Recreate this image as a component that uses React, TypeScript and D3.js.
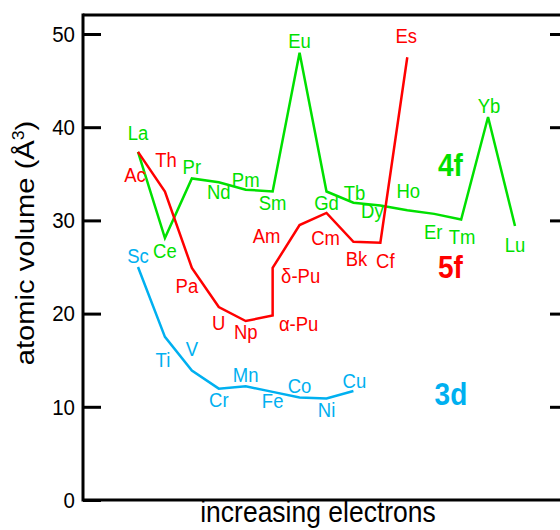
import React, { useEffect, useRef } from 'react';
import * as d3 from 'd3';

// atomic volumes (A^3), one entry per element
const elements4f = ['La', 'Ce', 'Pr', 'Nd', 'Pm', 'Sm', 'Eu', 'Gd', 'Tb', 'Dy', 'Ho', 'Er', 'Tm', 'Yb', 'Lu'];
const volumes4f = [37.35, 28.1, 34.5, 34.1, 33.3, 33.1, 48.0, 33.1, 31.9, 31.6, 31.1, 30.7, 30.1, 41.1, 29.4];

const elements5f = ['Ac', 'Th', 'Pa', 'U', 'Np', 'α-Pu', 'δ-Pu', 'Am', 'Cm', 'Bk', 'Cf', 'Es'];
const steps5f = [0, 1, 2, 3, 4, 5, 5, 6, 7, 8, 9, 10];
const volumes5f = [37.35, 33.1, 24.9, 20.7, 19.2, 19.8, 24.9, 29.5, 30.8, 27.7, 27.6, 47.5];

const elements3d = ['Sc', 'Ti', 'V', 'Cr', 'Mn', 'Fe', 'Co', 'Ni', 'Cu'];
const volumes3d = [25.0, 17.5, 13.9, 11.95, 12.2, 11.6, 11.0, 10.9, 11.7];

const yTicks = [0, 10, 20, 30, 40, 50];

// label nudges in px (dx, dy from the point to the text baseline)
const offsets4f = [[0, -12], [0, 20], [0, -4], [0, 17], [0, -3], [0, 18], [0, -5], [0, 18], [1, -3], [-8, 13], [1, -12], [-1, 25], [1, 25], [1, -4], [0, 26]];
const offsets5f = [[-3, 30], [1, -25], [-5, 25], [0, 23], [0, 18], [26, 16], [28, 15], [-33, 18], [-1, 32], [3, 24], [5, 25], [-1, -14]];
const offsets3d = [[0, -4], [-2, 30], [0, -14], [0, 18], [0, -4], [0, 16], [0, -4], [0, 19], [1, -3]];

const GREEN = '#00e000';
const RED = '#ff0000';
const BLUE = '#00b0f0';
const FONT = "Arial, 'Liberation Sans', sans-serif";
const STRETCH = 1.1; // the source figure is a little taller than wide

const App = () => {
  const svgRef = useRef<SVGSVGElement>(null);
  const width = 560;
  const height = 530;
  const left = 83, top = 15, bottom = 500, right = 568;

  useEffect(() => {
    const svg = d3.select(svgRef.current);
    svg.selectAll('*').remove();

    const x = d3.scaleLinear().domain([0, 14]).range([138, 515]);
    const y = d3.scaleLinear().domain([0, 50]).range([500, 34]);

    // frame
    svg.append('line').attr('x1', left).attr('x2', right).attr('y1', top).attr('y2', top)
      .attr('stroke', '#000').attr('stroke-width', 3);
    svg.append('line').attr('x1', left).attr('x2', right).attr('y1', bottom).attr('y2', bottom)
      .attr('stroke', '#000').attr('stroke-width', 3);

    const yAxis = d3.axisLeft(y).tickValues(yTicks).tickSize(-18).tickSizeOuter(0).tickPadding(8);
    const gy = svg.append('g').attr('transform', `translate(${left},0)`).call(yAxis);
    gy.select('.domain').remove();
    gy.selectAll('.tick line').attr('stroke', '#000').attr('stroke-width', 3);
    gy.selectAll('.tick text').attr('font-size', 20.5).attr('font-family', FONT).attr('fill', '#000')
      .attr('transform', `scale(1,${STRETCH})`).attr('dy', null).attr('y', 0)
      .attr('dominant-baseline', 'central');
    svg.append('line').attr('x1', left).attr('x2', left).attr('y1', top - 1.5).attr('y2', bottom + 1.5)
      .attr('stroke', '#000').attr('stroke-width', 3);

    const yRight = d3.axisRight(y).tickValues(yTicks.filter(d => d > 0)).tickSize(-18).tickSizeOuter(0).tickFormat(() => '');
    const gr = svg.append('g').attr('transform', `translate(${right},0)`).call(yRight);
    gr.select('.domain').attr('stroke', '#000').attr('stroke-width', 3);
    gr.selectAll('.tick line').attr('stroke', '#000').attr('stroke-width', 3);

    // axis titles
    svg.append('text').attr('transform', `translate(318,522) scale(1,${STRETCH})`).attr('text-anchor', 'middle')
      .attr('font-family', FONT).attr('font-size', 26.5).attr('fill', '#000').text('increasing electrons');
    const yt = svg.append('text').attr('transform', `translate(34,243) scale(1,${STRETCH}) rotate(-90)`)
      .attr('text-anchor', 'middle').attr('font-family', FONT).attr('font-size', 26.5).attr('fill', '#000');
    yt.append('tspan').text('atomic volume (Å');
    yt.append('tspan').attr('font-size', 16).attr('dy', -10).text('3');
    yt.append('tspan').attr('dy', 10).text(')');

    const series = [
      { names: elements4f, steps: elements4f.map((_, i) => i), vals: volumes4f, offs: offsets4f, color: GREEN, tag: '4f', tagAt: [11.6, 34.8] },
      { names: elements5f, steps: steps5f, vals: volumes5f, offs: offsets5f, color: RED, tag: '5f', tagAt: [11.6, 23.8] },
      { names: elements3d, steps: elements3d.map((_, i) => i), vals: volumes3d, offs: offsets3d, color: BLUE, tag: '3d', tagAt: [11.62, 10.2] },
    ];

    const line = d3.line<[number, number]>().x(d => x(d[0])).y(d => y(d[1]));

    series.forEach(s => {
      const pts = s.steps.map((st, i) => [st, s.vals[i]] as [number, number]);
      svg.append('path').attr('d', line(pts)).attr('fill', 'none')
        .attr('stroke', s.color).attr('stroke-width', 2.5).attr('stroke-linejoin', 'miter');

      svg.append('g').selectAll('text').data(pts).enter().append('text')
        .attr('transform', (d, i) => `translate(${x(d[0]) + s.offs[i][0]},${y(d[1]) + s.offs[i][1]}) scale(1,${STRETCH})`)
        .attr('text-anchor', 'middle')
        .attr('font-family', FONT).attr('font-size', 18.5).attr('fill', s.color)
        .text((d, i) => s.names[i]);

      svg.append('text')
        .attr('transform', `translate(${x(s.tagAt[0])},${y(s.tagAt[1])}) scale(1,${STRETCH})`)
        .attr('text-anchor', 'middle').attr('font-family', FONT).attr('font-size', 28)
        .attr('font-weight', 'bold').attr('fill', s.color).text(s.tag);
    });
  }, []);

  return (
    <svg ref={svgRef} width={width} height={height}
      style={{ position: 'absolute', left: 0, top: 0, background: '#fff' }}></svg>
  );
};

export default App;
